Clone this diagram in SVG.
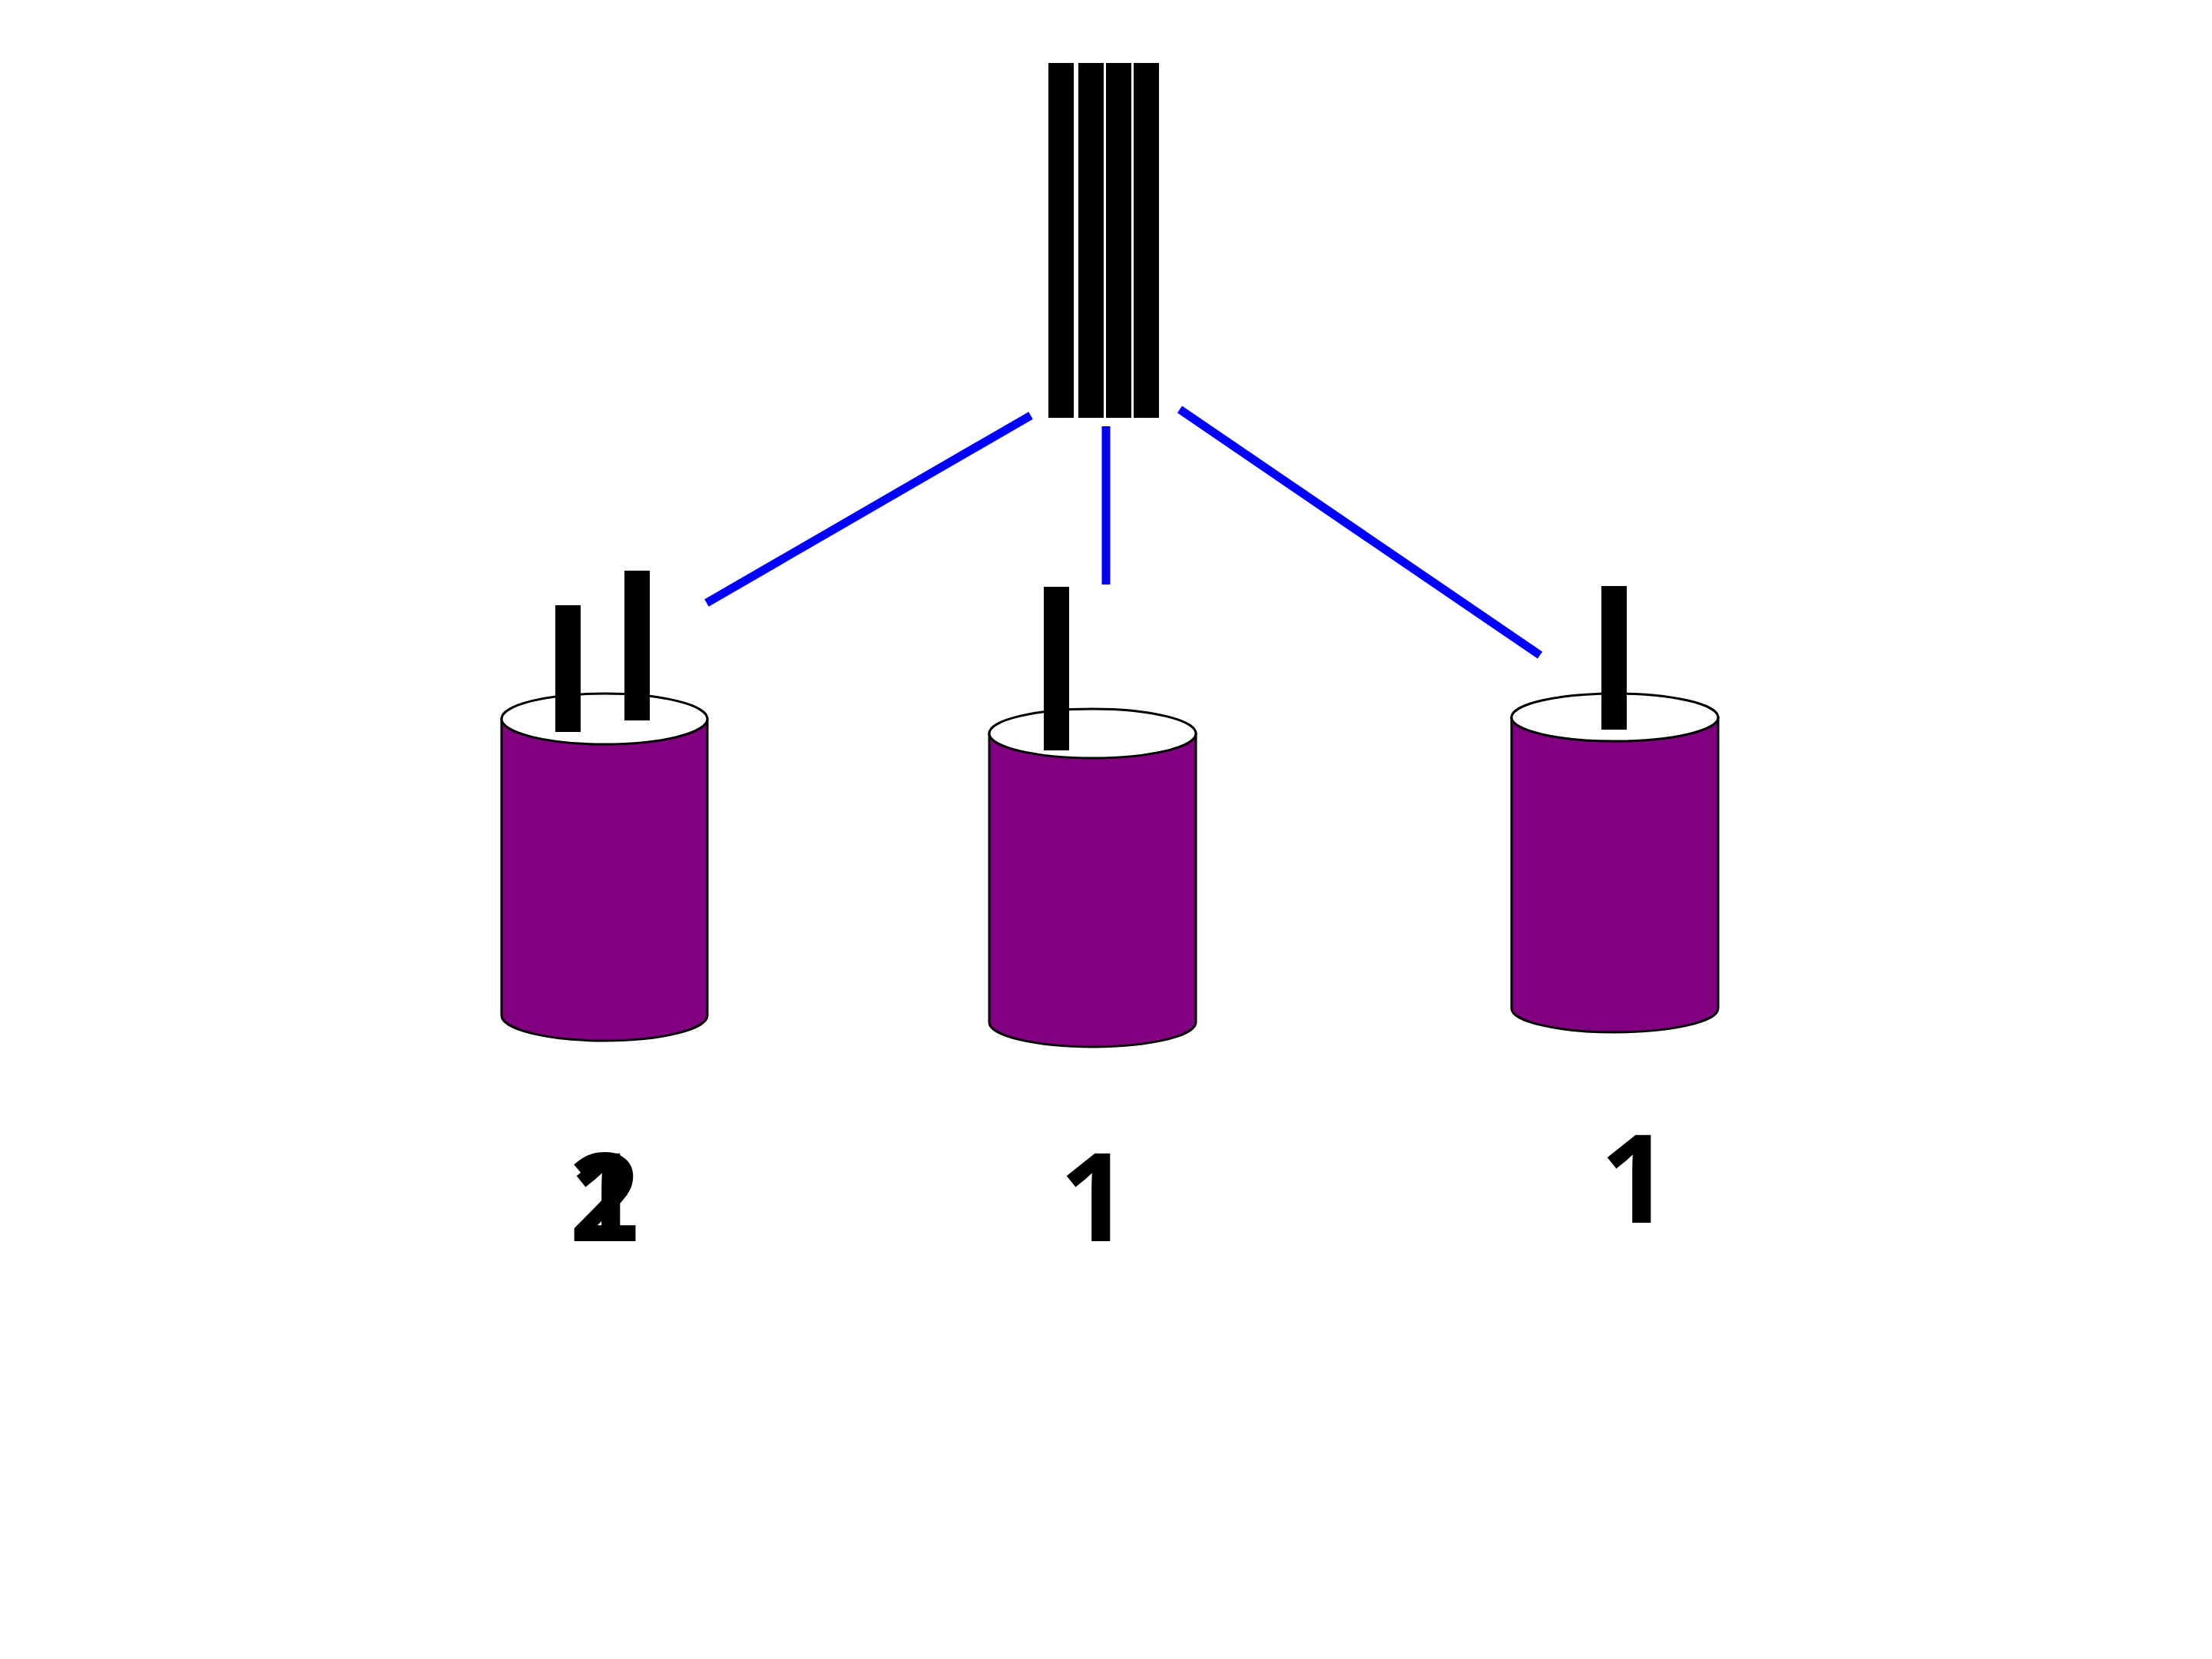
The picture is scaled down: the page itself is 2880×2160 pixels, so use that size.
<svg xmlns="http://www.w3.org/2000/svg" width="2880" height="2160" viewBox="0 0 2880 2160">
<style>
.bar{fill:#000}
.stick{fill:#000}
.body{fill:#800080;stroke:#000;stroke-width:3}
.top{fill:#fff;stroke:#000;stroke-width:3}
.conn{stroke:#0000ff;stroke-width:11;stroke-linecap:butt;fill:none}
.lbl{font-family:'Noto Sans',sans-serif;font-weight:700;font-size:160px;fill:#000;text-anchor:middle}
</style>
<rect width="2880" height="2160" fill="#fff"/>
<g id="bundle">
<rect class="bar" x="1365" y="82" width="33" height="462"/>
<rect class="bar" x="1404" y="82" width="33" height="462"/>
<rect class="bar" x="1440" y="82" width="33" height="462"/>
<rect class="bar" x="1476" y="82" width="33" height="462"/>
</g>
<g id="connectors">
<line class="conn" x1="1342" y1="541" x2="920" y2="785"/>
<line class="conn" x1="1440" y1="555" x2="1440" y2="761"/>
<line class="conn" x1="1536" y1="533" x2="2005" y2="853"/>
</g>
<g id="cyl1">
<path class="body" d="M653,936 L653,1322 A134,33 0 0 0 921,1322 L921,936 Z"/>
<ellipse class="top" cx="787" cy="936" rx="134" ry="33"/>
<rect class="stick" x="723" y="788" width="33" height="165"/>
<rect class="stick" x="813" y="743" width="33" height="195"/>
<text class="lbl" x="787" y="1616">2</text>
<text class="lbl" x="787" y="1616">1</text>
</g>
<g id="cyl2">
<path class="body" d="M1288,955 L1288,1331 A134.5,32 0 0 0 1557,1331 L1557,955 Z"/>
<ellipse class="top" cx="1422.5" cy="955" rx="134.5" ry="32"/>
<rect class="stick" x="1359" y="764" width="33" height="213"/>
<text class="lbl" x="1425" y="1616">1</text>
</g>
<g id="cyl3">
<path class="body" d="M1968,934 L1968,1313 A134.5,31 0 0 0 2237,1313 L2237,934 Z"/>
<ellipse class="top" cx="2102.5" cy="934" rx="134.5" ry="31"/>
<rect class="stick" x="2085" y="763" width="33" height="187"/>
<text class="lbl" x="2129" y="1592">1</text>
</g>
</svg>
